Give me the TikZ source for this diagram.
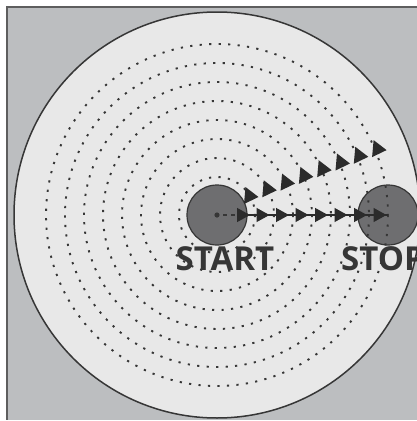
\documentclass[tikz,border=0pt]{standalone}
\usepackage{fontspec}
\setmainfont{Open Sans}
\usepackage{tikz}
\usetikzlibrary{arrows.meta,decorations.markings}

\definecolor{framegray}{HTML}{BCBEC0}
\definecolor{platefill}{HTML}{E8E8E8}
\definecolor{holefill}{HTML}{6E6E70}
\definecolor{inkgray}{HTML}{363636}

\begin{document}
\begin{tikzpicture}[
  x=1pt, y=-1pt,
  plate/.style={draw=inkgray, line width=1.5pt, fill=platefill},
  hole/.style={circle, draw=inkgray, line width=1.2pt, fill=holefill, minimum size=60pt, inner sep=0pt},
  ring/.style={draw=inkgray, line width=1.9pt, dash pattern=on 2.2pt off 7.3pt},
  lbl/.style={font=\fontsize{33}{33}\selectfont\bfseries, text=inkgray, inner sep=0pt},
  flow/.style={draw=inkgray!80!black, line width=1.4pt, postaction={decorate},
    decoration={markings, mark=between positions 12pt and 150pt step 19.5pt with {\arrow{Triangle[length=13pt,width=14pt]}}}},
  tri/.style={fill=inkgray!80!black},
]
  \useasboundingbox (0,0) rectangle (417,421);
  \clip (0,0) rectangle (417,421);
  \fill[framegray] (7,7) rectangle (425,419.5);
  \draw[inkgray!80, line width=1.5pt] (7,419.5) -- (7,7) -- (425,7);
  \coordinate (mid) at (217,215);
  \path[plate] (mid) circle (203);
  \node[hole] (start) at (mid) {};
  \node[hole] (stop) at (388,215) {};
  \node[lbl, anchor=base] (startlbl) at (225,270) {START};
  \node[lbl, anchor=base west] (stoplbl) at (341,270) {STOP};
  \foreach \r in {38,57,...,171} {\draw[ring] (mid) circle (\r);}
  \fill[inkgray] (start.center) circle (2.6);
  \coordinate (h0) at (238,215);
  \draw[inkgray, line width=1.2pt, dash pattern=on 4pt off 4pt, dash phase=-6pt] (start.center) -- (h0);
  \draw[flow] (h0) -- (stop.center);
  \foreach \i in {0,...,7} {\fill[tri] ({244+18.3*\i},{204-6.7*\i}) -- ++(1.5,-17) -- ++(13,10) -- cycle;}
\end{tikzpicture}
\end{document}
